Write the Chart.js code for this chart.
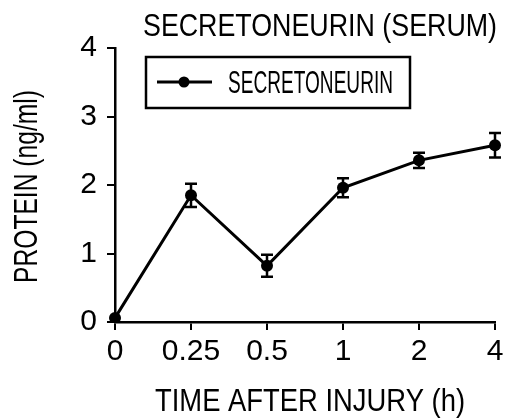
<!DOCTYPE html>
<html>
<head>
<meta charset="utf-8">
<script src="https://cdn.jsdelivr.net/npm/chart.js@4"></script>
<style>
  body { margin: 0; background: #fff; }
  #wrap { width: 507px; height: 420px; }
</style>
</head>
<body>
<div id="wrap"><canvas id="grafik" width="507" height="420"></canvas></div>
<script>
// waktu setelah cedera (jam) dan kadar protein serum
const timeLabels = ["0", "0.25", "0.5", "1", "2", "4"];
const proteinMean = [0.06, 1.85, 0.82, 1.96, 2.36, 2.58];
const proteinErr = [0, 0.17, 0.16, 0.14, 0.11, 0.18];
const yTicks = [0, 1, 2, 3, 4];

const chartTitle = "SECRETONEURIN (SERUM)";
const xTitle = "TIME AFTER INJURY (h)";
const yTitle = "PROTEIN (ng/ml)";

const font = "'Liberation Sans', Arial, sans-serif";

// teks sempit: huruf Liberation Sans dipadatkan ke lebar tertentu
const narrowText = (ctx, text, x, y, width, size) => {
  ctx.font = size + "px " + font;
  const w = ctx.measureText(text).width;
  ctx.save();
  ctx.translate(x, y);
  ctx.scale(width / w, 1);
  ctx.textAlign = "left";
  ctx.textBaseline = "alphabetic";
  ctx.fillStyle = "#000";
  ctx.fillText(text, 0, 0);
  ctx.restore();
};

// garis error dengan tutup di atas dan bawah
const errorBars = {
  id: "errorBars",
  afterDatasetsDraw(chart) {
    const ctx = chart.ctx;
    const y = chart.scales.y;
    const meta = chart.getDatasetMeta(0);
    ctx.save();
    ctx.strokeStyle = "#000";
    ctx.lineWidth = 2.5;
    meta.data.forEach((pt, i) => {
      const e = proteinErr[i];
      if (!e) return;
      const top = y.getPixelForValue(proteinMean[i] + e);
      const bot = y.getPixelForValue(proteinMean[i] - e);
      ctx.beginPath();
      ctx.moveTo(pt.x, top); ctx.lineTo(pt.x, bot);
      ctx.moveTo(pt.x - 6, top); ctx.lineTo(pt.x + 6, top);
      ctx.moveTo(pt.x - 6, bot); ctx.lineTo(pt.x + 6, bot);
      ctx.stroke();
    });
    ctx.restore();
  }
};

// judul, judul sumbu dan legenda berkotak
const labelsPlugin = {
  id: "labelsPlugin",
  afterDraw(chart) {
    const ctx = chart.ctx;
    const label = chart.data.datasets[0].label;
    narrowText(ctx, chartTitle, 143, 36, 354, 31);
    narrowText(ctx, xTitle, 155, 411, 310, 31);

    ctx.save();
    ctx.translate(37, 283);
    ctx.rotate(-Math.PI / 2);
    narrowText(ctx, yTitle, 0, 0, 193, 33);
    ctx.restore();

    ctx.save();
    ctx.strokeStyle = "#000";
    ctx.lineWidth = 2.5;
    ctx.strokeRect(146, 57, 264, 51);
    ctx.beginPath();
    ctx.moveTo(157, 82); ctx.lineTo(212, 82);
    ctx.lineWidth = 3;
    ctx.stroke();
    ctx.beginPath();
    ctx.arc(184, 82, 5.5, 0, Math.PI * 2);
    ctx.fillStyle = "#000";
    ctx.fill();
    ctx.restore();
    narrowText(ctx, label, 228, 93, 165, 31);
  }
};

const crt = new Chart(document.getElementById("grafik"), {
  type: "line",
  data: {
    labels: timeLabels,
    datasets: [
      {
        label: "SECRETONEURIN",
        data: proteinMean,
        borderColor: "#000",
        borderWidth: 3,
        tension: 0,
        pointRadius: 6,
        pointBackgroundColor: "#000",
        pointBorderColor: "#000",
        pointBorderWidth: 0,
      },
    ],
  },
  options: {
    responsive: false,
    animation: false,
    layout: { padding: { left: 0, right: 12, top: 48, bottom: 0 } },
    scales: {
      x: {
        offset: false,
        grid: { offset: false, drawOnChartArea: false, drawTicks: true, tickLength: 8, color: "#000", lineWidth: 2 },
        border: { display: true, color: "#000", width: 2.5 },
        ticks: { color: "#000", font: { family: font, size: 30 }, padding: 4, maxRotation: 0, autoSkip: false },
        afterFit(s) { s.height = 98; s.paddingLeft = 0; s.paddingRight = 0; },
      },
      y: {
        min: 0,
        max: 4,
        afterBuildTicks(s) { s.ticks = yTicks.map(v => ({ value: v })); },
        grid: { drawOnChartArea: false, drawTicks: true, tickLength: 8, color: "#000", lineWidth: 2 },
        border: { display: true, color: "#000", width: 2.5 },
        ticks: { color: "#000", font: { family: font, size: 30 }, padding: 10 },
        afterFit(s) { s.width = 115; s.paddingTop = 0; s.paddingBottom = 0; },
      },
    },
    plugins: {
      legend: { display: false },
      tooltip: { enabled: false },
    },
  },
  plugins: [errorBars, labelsPlugin],
});
</script>
</body>
</html>
